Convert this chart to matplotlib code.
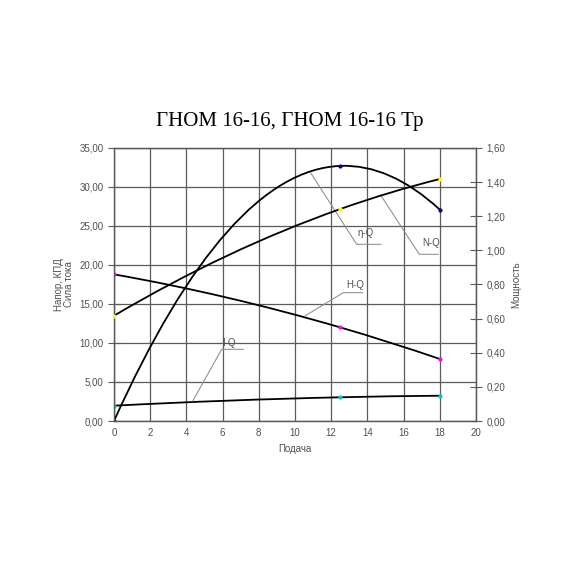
import numpy as np
import matplotlib.pyplot as plt
from matplotlib.path import Path
from matplotlib.patches import PathPatch
from matplotlib.ticker import FuncFormatter, MultipleLocator

# Data (Q = подача)
q_points = [0, 12.5, 18]
eta_q = [0.0, 32.7, 27.1]     # КПД, left axis
head_q = [18.8, 12.0, 7.95]   # Напор, left axis
current_q = [1.96, 3.04, 3.24]  # Сила тока, left axis
power_q = [0.617, 1.242, 1.418]  # Мощность, right axis

title = 'ГНОМ 16-16, ГНОМ 16-16 Тр'

plt.rcParams['font.family'] = ['Liberation Sans', 'DejaVu Sans']
text_grey = '#505050'


def smooth_path(x, y):
    # Bessel tangents + cubic Bezier segments (smoothed line like in Excel)
    x = np.asarray(x, float)
    y = np.asarray(y, float)
    n = len(x)
    d = np.zeros(n)
    for i in range(n):
        if i == 0:
            a, b, c = 0, 1, 2
        elif i == n - 1:
            a, b, c = n - 3, n - 2, n - 1
        else:
            a, b, c = i - 1, i, i + 1
        # derivative of parabola through a, b, c at point i
        xa, xb, xc = x[a], x[b], x[c]
        ya, yb, yc = y[a], y[b], y[c]
        t = x[i]
        d[i] = (ya * ((t - xb) + (t - xc)) / ((xa - xb) * (xa - xc))
                + yb * ((t - xa) + (t - xc)) / ((xb - xa) * (xb - xc))
                + yc * ((t - xa) + (t - xb)) / ((xc - xa) * (xc - xb)))
    verts = [(x[0], y[0])]
    codes = [Path.MOVETO]
    for i in range(n - 1):
        h = x[i + 1] - x[i]
        verts += [(x[i] + h / 3, y[i] + d[i] * h / 3),
                  (x[i + 1] - h / 3, y[i + 1] - d[i + 1] * h / 3),
                  (x[i + 1], y[i + 1])]
        codes += [Path.CURVE4] * 3
    return Path(verts, codes)


fig = plt.figure(figsize=(5.7, 5.7), dpi=100)
ax = fig.add_axes([0.2, 0.2614, 0.635, 0.479])
ax2 = ax.twinx()

ax.set_xlim(0, 20)
ax.set_ylim(0, 35)
ax2.set_ylim(0, 1.6)
ax.xaxis.set_major_locator(MultipleLocator(2))
ax.yaxis.set_major_locator(MultipleLocator(5))
ax2.yaxis.set_major_locator(MultipleLocator(0.2))
comma = FuncFormatter(lambda v, p: f'{v:.2f}'.replace('.', ','))
ax.yaxis.set_major_formatter(comma)
ax2.yaxis.set_major_formatter(comma)

ax.grid(True, color='#5a5a5a', linewidth=0.9)
ax.set_axisbelow(True)
for a in (ax, ax2):
    for s in a.spines.values():
        s.set_color('#5a5a5a')
        s.set_linewidth(0.9)
ax.tick_params(axis='y', direction='inout', length=8, width=0.8,
               colors='#5a5a5a', labelcolor=text_grey, labelsize=7)
ax.tick_params(axis='x', length=0, pad=5, labelcolor=text_grey, labelsize=7)
ax2.tick_params(axis='y', direction='inout', length=8, width=0.8,
                colors='#5a5a5a', labelcolor=text_grey, labelsize=7)

# curves
for yy, axis in ((eta_q, ax), (head_q, ax), (current_q, ax), (power_q, ax2)):
    axis.add_patch(PathPatch(smooth_path(q_points, yy), facecolor='none',
                             edgecolor='black', linewidth=1.3, zorder=3))

ax.scatter(q_points, eta_q, s=4, color='#000080', zorder=4)
ax.scatter(q_points, head_q, s=4, color='#ff00ff', zorder=4)
ax.scatter(q_points, current_q, s=4, color='#00c8c8', zorder=4)
ax2.scatter(q_points, power_q, s=4, color='#ffff00', zorder=4)

# leader labels: start on curve, knee, end, text centre
labels = [
    ('η-Q', (10.87, 31.8), (13.41, 22.65), (14.75, 22.65), (13.9, 24.1)),
    ('N-Q', (14.73, 28.97), (16.87, 21.37), (17.92, 21.37), (17.55, 22.86)),
    ('H-Q', (10.55, 13.46), (12.67, 16.45), (13.74, 16.45), (13.31, 17.44)),
    ('I-Q', (4.35, 2.56), (5.95, 9.19), (7.14, 9.19), (6.37, 10.04)),
]
for name, p0, p1, p2, pt in labels:
    ax.plot([p0[0], p1[0], p2[0]], [p0[1], p1[1], p2[1]],
            color='#8c8c8c', linewidth=0.75, zorder=3)
    ax.text(pt[0], pt[1], name, fontsize=7, color=text_grey,
            ha='center', va='center', zorder=5)

ax.set_xlabel('Подача', fontsize=7, color=text_grey, labelpad=4)
ax.set_ylabel('Напор, КПД\nСила тока', fontsize=7, color=text_grey,
              labelpad=4, linespacing=1.0)
ax2.set_ylabel('Мощность', fontsize=7, color=text_grey, labelpad=4)

fig.text(0.508, 0.787, title, fontsize=15, family='Liberation Serif',
         ha='center', va='center', color='black')

fig.savefig('out.png', dpi=100)
